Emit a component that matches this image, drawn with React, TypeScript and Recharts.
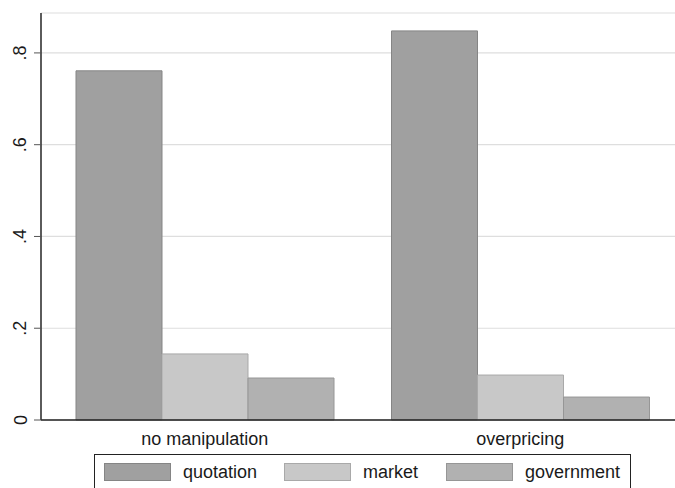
import React from "react";
import { BarChart, Bar, XAxis, YAxis, CartesianGrid } from "recharts";

const categories = ["no manipulation", "overpricing"];
const quotation = [0.761, 0.848];
const market = [0.144, 0.098];
const government = [0.0915, 0.05];
const yTicks = [0, 0.2, 0.4, 0.6, 0.8];

const seriesNames = ["quotation", "market", "government"];
const fills = ["#a0a0a0", "#c8c8c8", "#b1b1b1"];
const strokes = ["#858585", "#a9a9a9", "#969696"];

const data = categories.map((c, i) => ({
  category: c,
  quotation: quotation[i],
  market: market[i],
  government: government[i],
}));

const FONT = "'Liberation Sans', Arial, sans-serif";

const fmt = (v: number) => (v === 0 ? "0" : v.toFixed(1).replace(/^0/, ""));

const YTick = (props: any) => {
  const { y, payload } = props;
  const x = 26.5;
  return (
    <text
      x={x}
      y={y}
      transform={`rotate(-90, ${x}, ${y})`}
      textAnchor="middle"
      fontSize={18}
      fontFamily={FONT}
      fill="#1a1a1a"
    >
      {fmt(payload.value)}
    </text>
  );
};

const XTick = (props: any) => {
  const { x, y, payload } = props;
  return (
    <text x={x} y={y + 17} textAnchor="middle" fontSize={18} fontFamily={FONT} fill="#1a1a1a">
      {payload.value}
    </text>
  );
};

const keyLefts = [9, 189, 351];
const labelLefts = [88, 268, 430];

const LegendBox = () => (
  <div
    style={{
      position: "absolute",
      left: 94,
      top: 454,
      width: 537,
      height: 40,
      border: "1px solid #222",
      boxSizing: "border-box",
      background: "#fff",
      fontFamily: FONT,
      fontSize: 18,
      color: "#1a1a1a",
    }}
  >
    {seriesNames.map((s, i) => (
      <React.Fragment key={s}>
        <div
          style={{
            position: "absolute",
            left: keyLefts[i],
            top: 8,
            width: 67,
            height: 18,
            boxSizing: "border-box",
            background: fills[i],
            border: `1px solid ${strokes[i]}`,
          }}
        />
        <div
          style={{
            position: "absolute",
            left: labelLefts[i],
            top: 6,
            lineHeight: "22px",
            whiteSpace: "nowrap",
          }}
        >
          {s}
        </div>
      </React.Fragment>
    ))}
  </div>
);

export default function App() {
  return (
    <div
      style={{
        position: "fixed",
        left: 0,
        top: 0,
        width: 675,
        height: 488,
        overflow: "hidden",
        background: "#fff",
      }}
    >
      <BarChart
        width={700}
        height={488}
        data={data}
        margin={{ top: 13, right: 22, bottom: 38, left: 0 }}
        barCategoryGap={29}
        barGap={0}
      >
        <CartesianGrid vertical={false} stroke="#dedede" strokeWidth={1.2} />
        <XAxis
          dataKey="category"
          xAxisId="bottom"
          height={30}
          padding={{ left: 6, right: 0 }}
          tickLine={false}
          axisLine={{ stroke: "#222", strokeWidth: 1.5 }}
          tick={<XTick />}
          interval={0}
        />
        <XAxis
          dataKey="category"
          xAxisId="top"
          orientation="top"
          height={0}
          tick={false}
          tickLine={false}
          axisLine={{ stroke: "#666", strokeWidth: 1.3 }}
        />
        <YAxis
          width={41}
          domain={[0, 0.887]}
          ticks={yTicks}
          interval={0}
          tickSize={7}
          tickLine={{ stroke: "#555" }}
          axisLine={{ stroke: "#333", strokeWidth: 1.6 }}
          tick={<YTick />}
        />
        {seriesNames.map((s, i) => (
          <Bar
            key={s}
            dataKey={s}
            name={s}
            xAxisId="bottom"
            fill={fills[i]}
            stroke={strokes[i]}
            strokeWidth={1}
            isAnimationActive={false}
          />
        ))}
      </BarChart>
      <LegendBox />
    </div>
  );
}
